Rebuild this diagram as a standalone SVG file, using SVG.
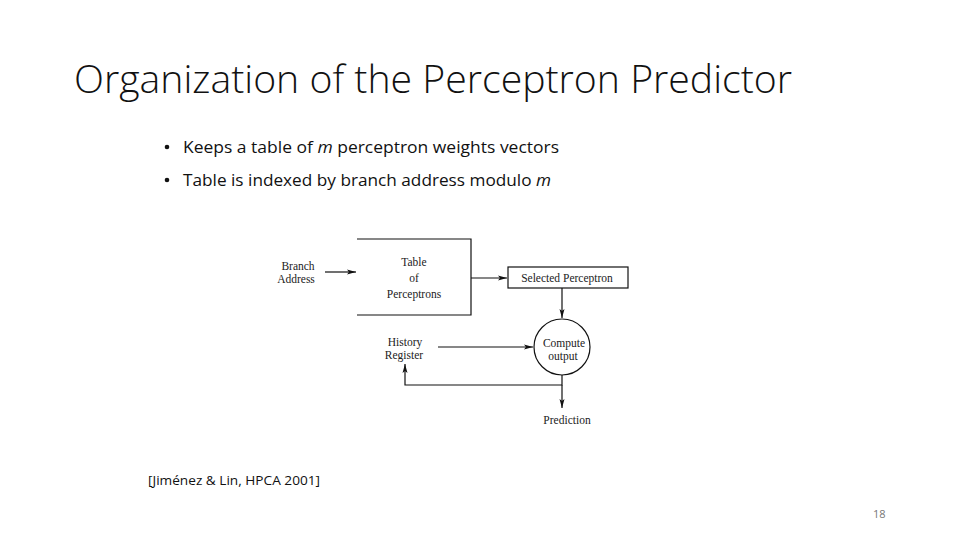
<svg xmlns="http://www.w3.org/2000/svg" width="960" height="540" viewBox="0 0 960 540">
<style>
.title{font-family:"Open Sans","Noto Sans",sans-serif;font-weight:300;font-size:38px;fill:#111}
.bul{font-family:"Open Sans","Noto Sans",sans-serif;font-size:16px;fill:#111}
.dg{font-family:"Liberation Serif",serif;font-size:11.5px;fill:#222;text-anchor:middle}
.ln{stroke:#111;stroke-width:1.2;fill:none}
.cite{font-family:"Open Sans","Noto Sans",sans-serif;font-size:12px;fill:#111}
.pg{font-family:"Open Sans","Noto Sans",sans-serif;font-size:11px;fill:#777}
</style>
<defs>
<marker id="ah" markerWidth="10" markerHeight="6" refX="9" refY="3" orient="auto" markerUnits="userSpaceOnUse">
<path d="M0,0.5 L9,3 L0,5.5 L2,3 Z" fill="#111"/>
</marker>
</defs>
<rect width="960" height="540" fill="#fff"/>
<text class="title" x="74" y="93" textLength="718" lengthAdjust="spacingAndGlyphs">Organization of the Perceptron Predictor</text>
<g id="bullets">
<circle cx="167" cy="147" r="2.3" fill="#111"/>
<text class="bul" x="183" y="153" textLength="376" lengthAdjust="spacingAndGlyphs">Keeps a table of <tspan font-style="italic">m</tspan> perceptron weights vectors</text>
<circle cx="167" cy="180" r="2.3" fill="#111"/>
<text class="bul" x="183" y="186" textLength="368" lengthAdjust="spacingAndGlyphs">Table is indexed by branch address modulo <tspan font-style="italic">m</tspan></text>
</g>
<g id="branch-address">
<text class="dg" x="298" y="270">Branch</text>
<text class="dg" x="296" y="283">Address</text>
</g>
<g id="table">
<path class="ln" d="M357,239 H471 V315 H357"/>
<text class="dg" x="414" y="266">Table</text>
<text class="dg" x="414" y="282">of</text>
<text class="dg" x="414" y="298">Perceptrons</text>
</g>
<g id="selected">
<rect class="ln" x="508" y="267" width="120" height="21"/>
<text class="dg" x="567" y="282">Selected Perceptron</text>
</g>
<g id="compute">
<circle class="ln" cx="562" cy="347" r="28"/>
<text class="dg" x="564" y="347">Compute</text>
<text class="dg" x="563" y="360">output</text>
</g>
<g id="history">
<text class="dg" x="405" y="346">History</text>
<text class="dg" x="404" y="359">Register</text>
</g>
<g id="prediction">
<text class="dg" x="567" y="424">Prediction</text>
</g>
<g id="connectors">
<line class="ln" x1="325" y1="272" x2="356" y2="272" marker-end="url(#ah)"/>
<line class="ln" x1="471" y1="278" x2="507" y2="278" marker-end="url(#ah)"/>
<line class="ln" x1="562" y1="288" x2="562" y2="318" marker-end="url(#ah)"/>
<line class="ln" x1="438" y1="347" x2="533" y2="347" marker-end="url(#ah)"/>
<path class="ln" d="M562,375 V385 H405 V364" marker-end="url(#ah)"/>
<line class="ln" x1="562" y1="385" x2="562" y2="408" marker-end="url(#ah)"/>
</g>
<text class="cite" x="148" y="485" textLength="172" lengthAdjust="spacingAndGlyphs">[Jiménez &amp; Lin, HPCA 2001]</text>
<text class="pg" x="873" y="518">18</text>
</svg>
